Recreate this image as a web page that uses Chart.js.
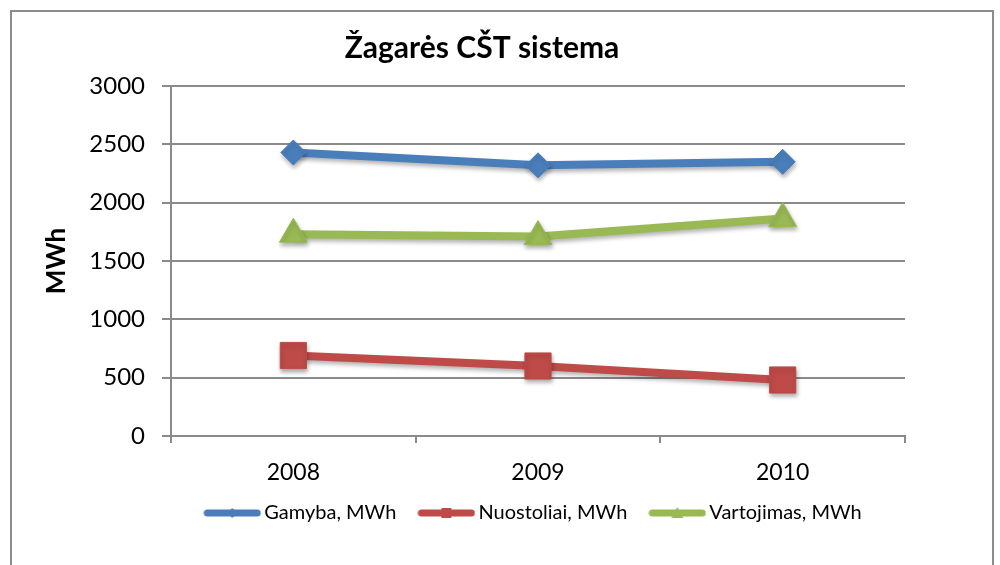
<!DOCTYPE html>
<html><head><meta charset="utf-8">
<script src="https://cdn.jsdelivr.net/npm/chart.js@4"></script>
<style>html,body{margin:0;padding:0;background:#fff}#wrap{width:1000px;height:565px;position:relative}</style>
</head><body><div id="wrap"><canvas id="c" width="1000" height="565"></canvas></div>
<script>
const categories = ['2008', '2009', '2010'];
const seriesNames = ['Gamyba, MWh', 'Nuostoliai, MWh', 'Vartojimas, MWh'];
const gamyba = [2430, 2320, 2350];
const nuostoliai = [690, 600, 480];
const vartojimas = [1730, 1710, 1865];
const yTickValues = [0, 500, 1000, 1500, 2000, 2500, 3000];
const titleText = 'Žagarės CŠT sistema';
const yAxisTitle = 'MWh';

const FONT = 'Lato, "Open Sans", "DejaVu Sans", sans-serif';
const GRID = '#8a8a8a';
const colors = ['#4a7ebb', '#be4b48', '#98b954'];

function legendIcon(color, shape) {
  const cv = document.createElement('canvas');
  cv.width = 58; cv.height = 16;
  const g = cv.getContext('2d');
  g.strokeStyle = color; g.fillStyle = color;
  g.lineWidth = 7; g.lineCap = 'round';
  g.beginPath(); g.moveTo(4, 8); g.lineTo(54, 8); g.stroke();
  g.beginPath();
  if (shape === 'diamond') { g.moveTo(29, 3); g.lineTo(34, 8); g.lineTo(29, 13); g.lineTo(24, 8); }
  else if (shape === 'square') { g.rect(24, 3, 10, 10); }
  else { g.moveTo(29, 2); g.lineTo(35, 13); g.lineTo(23, 13); }
  g.closePath(); g.fill();
  return cv;
}
const icons = [legendIcon(colors[0], 'diamond'), legendIcon(colors[1], 'square'), legendIcon(colors[2], 'tri')];

const borderPlugin = {
  id: 'frame',
  beforeDraw(chart) {
    const ctx = chart.ctx;
    ctx.save();
    ctx.fillStyle = '#fff';
    ctx.fillRect(0, 0, chart.width, chart.height);
    ctx.strokeStyle = '#8c8c8c';
    ctx.lineWidth = 2;
    ctx.strokeRect(11, 11, 982, 620);
    ctx.restore();
  }
};
const shadowPlugin = {
  id: 'shadow',
  beforeDatasetsDraw(chart) {
    const ctx = chart.ctx;
    ctx.save();
    ctx.shadowColor = 'rgba(0,0,0,0.3)';
    ctx.shadowBlur = 4;
    ctx.shadowOffsetX = 1;
    ctx.shadowOffsetY = 3;
  },
  afterDatasetsDraw(chart) { chart.ctx.restore(); }
};
const shiftPlugin = {
  id: 'shift',
  afterLayout(chart) {
    const t = chart.titleBlock;
    if (t) { const c = (t.left + t.right) / 2; const dx = 482 - c; t.left += dx; t.right += dx; }
    const l = chart.legend;
    if (l) {
      const c = (l.left + l.right) / 2; const dx = 536 - c; l.left += dx; l.right += dx;
      l.top -= 5; l.bottom -= 5;
    }
  }
};

function ds(label, data, color, style, radius) {
  return {
    label, data, borderColor: color, backgroundColor: color,
    borderWidth: 8, pointStyle: style, pointRadius: radius, pointHoverRadius: radius,
    pointBackgroundColor: color, pointBorderColor: color, pointBorderWidth: 1,
    tension: 0, fill: false
  };
}

new Chart(document.getElementById('c'), {
  type: 'line',
  data: {
    labels: categories,
    datasets: [
      ds(seriesNames[0], gamyba, colors[0], 'rectRot', 12.5),
      ds(seriesNames[1], nuostoliai, colors[1], 'rect', 18.5),
      ds(seriesNames[2], vartojimas, colors[2], 'triangle', 16)
    ]
  },
  options: {
    responsive: false,
    animation: false,
    layout: { padding: { left: 0, right: 95, top: 0, bottom: 27 } },
    plugins: {
      tooltip: { enabled: false },
      title: {
        display: true, text: titleText, color: '#000',
        font: { family: FONT, size: 30, weight: 'bold' },
        padding: { top: 30, bottom: 20 }
      },
      legend: {
        position: 'bottom',
        labels: {
          usePointStyle: true, pointStyleWidth: 44, boxHeight: 16,
          padding: 28, color: '#000',
          font: { family: FONT, size: 20 },
          generateLabels(chart) {
            const items = Chart.defaults.plugins.legend.labels.generateLabels(chart);
            items.forEach((it, i) => { it.pointStyle = icons[i]; });
            return items;
          }
        }
      }
    },
    scales: {
      x: {
        offset: true,
        grid: { offset: true, drawOnChartArea: false, drawTicks: true, tickLength: 7, color: GRID, lineWidth: 2 },
        border: { color: GRID, width: 2 },
        ticks: { color: '#000', font: { family: FONT, size: 23 }, padding: 16 },
        afterFit(s) { s.height = 44; }
      },
      y: {
        min: 0, max: 3000,
        afterBuildTicks(s) { s.ticks = yTickValues.map(v => ({ value: v })); },
        grid: { color: GRID, lineWidth: 2, tickLength: 9 },
        border: { color: GRID, width: 2 },
        ticks: { color: '#000', font: { family: FONT, size: 24 }, padding: 17, callback: v => String(v) },
        title: { display: true, text: yAxisTitle, color: '#000', font: { family: FONT, size: 26, weight: 'bold' }, padding: { top: 41, bottom: 0 } },
        afterFit(s) { s.width = 171; }
      }
    }
  },
  plugins: [borderPlugin, shadowPlugin, shiftPlugin]
});
</script></body></html>
